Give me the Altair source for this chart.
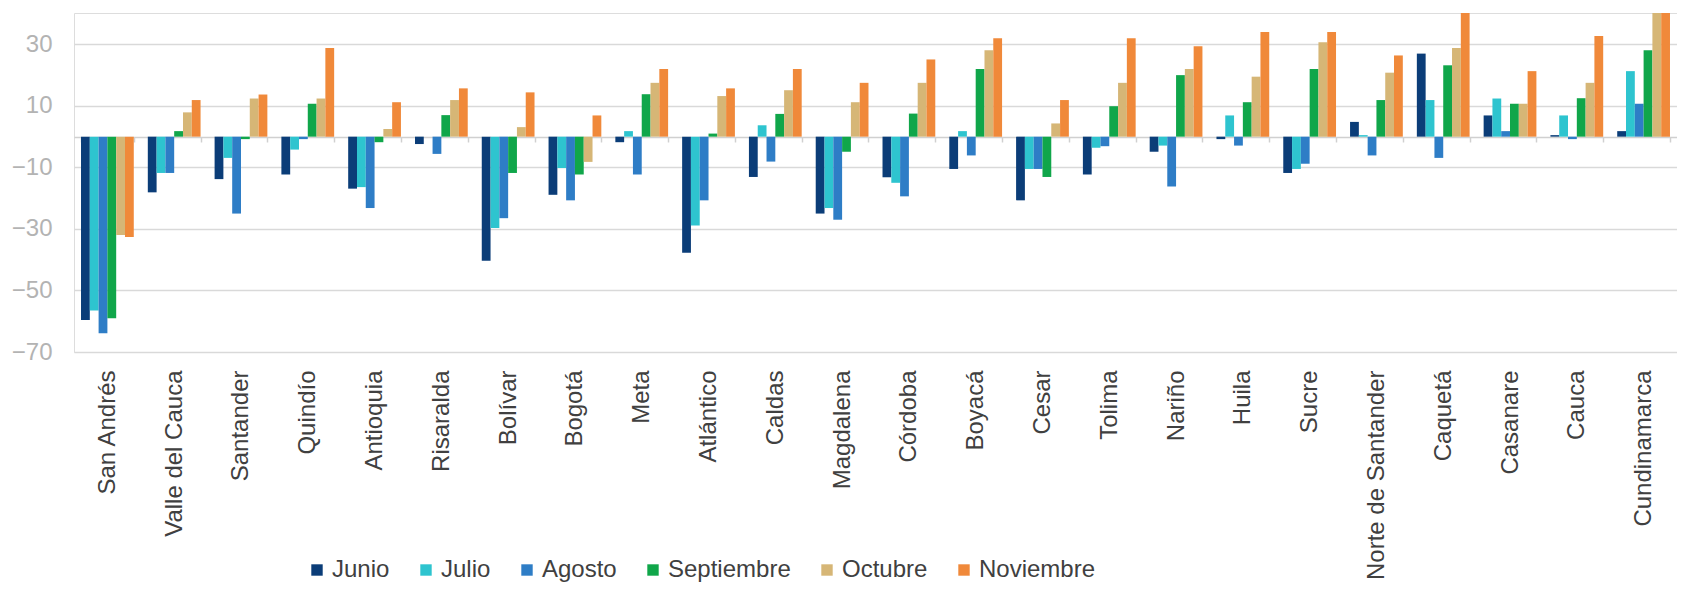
import altair as alt
import pandas as pd

departamentos = ["San Andrés", "Valle del Cauca", "Santander", "Quindío", "Antioquia",
                 "Risaralda", "Bolívar", "Bogotá", "Meta", "Atlántico", "Caldas",
                 "Magdalena", "Córdoba", "Boyacá", "Cesar", "Tolima", "Nariño", "Huila",
                 "Sucre", "Norte de Santander", "Caquetá", "Casanare", "Cauca", "Cundinamarca"]

meses = ["Junio", "Julio", "Agosto", "Septiembre", "Octubre", "Noviembre"]
colores = ["#0b3d78", "#2ec4cf", "#2e7dc6", "#10a64a", "#d6b676", "#f0893a"]

junio = [-59.6, -18.1, -13.8, -12.3, -16.9, -2.4, -40.3, -18.9, -1.8, -37.7, -13.1, -25.0,
         -13.2, -10.5, -20.7, -12.3, -4.9, -0.8, -11.8, 4.8, 27.0, 6.9, 0.5, 1.8]
julio = [-56.5, -11.8, -6.9, -4.2, -16.4, 0.0, -29.7, -10.2, 1.8, -28.9, 3.7, -23.2,
         -15.0, 1.8, -10.5, -3.6, -2.9, 6.9, -10.5, 0.5, 11.9, 12.4, 6.9, 21.3]
agosto = [-63.9, -11.8, -25.0, -0.8, -23.2, -5.6, -26.5, -20.7, -12.3, -20.7, -8.1, -27.0,
          -19.4, -6.1, -10.5, -3.1, -16.2, -2.9, -8.8, -6.1, -6.9, 1.8, -0.8, 10.7]
septiembre = [-59.0, 1.8, -0.8, 10.7, -1.8, 7.0, -11.8, -12.3, 13.8, 1.0, 7.4, -4.9,
              7.5, 22.0, -13.1, 9.9, 20.0, 11.2, 22.0, 11.9, 23.2, 10.7, 12.5, 28.1]
octubre = [-32.0, 7.9, 12.4, 12.4, 2.5, 11.9, 3.1, -8.2, 17.5, 13.2, 15.1, 11.2,
           17.5, 28.1, 4.3, 17.5, 22.0, 19.5, 30.7, 20.8, 28.8, 10.7, 17.5, 42.0]
noviembre = [-32.6, 11.9, 13.7, 28.8, 11.2, 15.7, 14.4, 6.9, 22.0, 15.7, 22.0, 17.5,
             25.1, 32.0, 11.9, 32.0, 29.4, 34.0, 34.0, 26.4, 42.0, 21.3, 32.7, 44.0]

y_ticks = [-70, -50, -30, -10, 10, 30]

series = [junio, julio, agosto, septiembre, octubre, noviembre]
rows = []
for mes, vals in zip(meses, series):
    for dep, v in zip(departamentos, vals):
        rows.append({"dep": dep, "mes": mes, "valor": v})
df = pd.DataFrame(rows)

FONT = "Liberation Sans"

chart = alt.Chart(df).mark_bar(clip=True).encode(
    x=alt.X("dep:N", sort=departamentos,
            scale=alt.Scale(paddingInner=0.21, paddingOuter=0.105),
            axis=alt.Axis(title=None, orient="bottom", offset=-215,
                          domain=True, domainColor="#d0d0d0", domainWidth=1.5,
                          ticks=True, tickBand="extent", tickSize=5, tickColor="#d0d0d0",
                          tickWidth=1.5,
                          labelAngle=-90, labelPadding=228, labelFontSize=24,
                          labelColor="#404040", labelFont=FONT, labelLimit=400,
                          grid=False)),
    xOffset=alt.XOffset("mes:N", sort=meses),
    y=alt.Y("valor:Q",
            scale=alt.Scale(domain=[-70, 40.2], nice=False, zero=False),
            axis=alt.Axis(title=None, values=y_ticks, domain=False, ticks=False,
                          labelPadding=22, labelFontSize=24, labelColor="#b3b3b3",
                          labelFont=FONT, gridColor="#d9d9d9", gridWidth=1.5)),
    color=alt.Color("mes:N", sort=meses,
                    scale=alt.Scale(domain=meses, range=colores),
                    legend=alt.Legend(title=None, orient="none", legendX=231, legendY=545,
                                      direction="horizontal", columns=6,
                                      symbolType="square", symbolSize=130,
                                      symbolStrokeWidth=0, labelOffset=3,
                                      columnPadding=24, labelFontSize=24,
                                      labelColor="#404040", labelFont=FONT,
                                      labelLimit=300)),
).properties(
    width=1603, height=339,
    autosize=alt.AutoSizeParams(type="none"),
    padding={"left": 66, "top": 5, "right": 0, "bottom": 233},
).configure_view(stroke=None).configure(font=FONT)

chart.save("out.html", embed_options={"renderer": "svg", "actions": False})
